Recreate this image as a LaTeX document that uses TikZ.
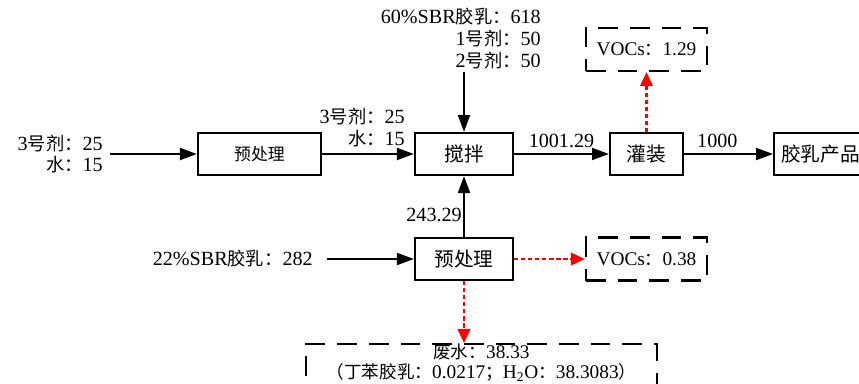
\documentclass[tikz,border=0pt]{standalone}
\usepackage{fontspec}
\setmainfont{Liberation Serif}[Scale=1.1]
\newfontfamily\cjk{Noto Sans CJK SC}
\usetikzlibrary{arrows.meta}

\tikzset{
  box/.style={draw,line width=1.6pt,minimum height=1.05cm,inner sep=0pt,
              font=\fontsize{14}{16}\selectfont\cjk},
  dashbox/.style={draw,line width=1.6pt,dash pattern=on 14pt off 8.5pt,
                  minimum width=3.025cm,minimum height=1.075cm,inner sep=0pt,
                  font=\fontsize{12.5}{15}\selectfont},
  lbl/.style={inner sep=0pt,font=\fontsize{13}{15.5}\selectfont},
  flow/.style={line width=1.4pt,-{Triangle[length=12pt,width=8.5pt]}},
  loss/.style={red,line width=1.6pt,dash pattern=on 3pt off 2pt,
               -{Triangle[length=10pt,width=9pt]}}
}

\begin{document}
\begin{tikzpicture}[x=0.025cm,y=-0.025cm]
  \useasboundingbox (0,0) rectangle (859,383);
  \clip (0,0) rectangle (859,383);

  % process boxes
  \node[box,minimum width=3.075cm,font=\fontsize{12}{14}\selectfont\cjk]
    (pre1) at (259.5,154) {预处理};
  \node[box,minimum width=2.45cm] (mix) at (464,154) {搅拌};
  \node[box,minimum width=1.825cm] (fill) at (646.5,154) {灌装};
  \node[box,anchor=west,inner xsep=5pt] (prod) at (773,154) {胶乳产品};
  \node[box,minimum width=2.45cm] (pre2) at (464,259) {预处理};

  % losses
  \node[dashbox] (voc1) at (646.5,49.5) {VOCs{\cjk ：}1.29};
  \node[dashbox] (voc2) at (646.5,259) {VOCs{\cjk ：}0.38};
  \node[dashbox,anchor=north,minimum width=8.775cm,align=center,
        text depth=30pt,font=\fontsize{12.5}{14}\selectfont]
    (waste) at (481.5,343)
    {{\cjk 废水：}38.33\\{\cjk （丁苯胶乳：}0.0217{\cjk ；}H\textsubscript{2}O{\cjk ：}38.3083{\cjk ）}};

  % feeds
  \node[lbl,anchor=east,align=right] (feed1) at (103,154)
    {3{\cjk 号剂：}25\\{\cjk 水：}15};
  \node[lbl,anchor=south east,align=right] (feed2) at (541,69)
    {60\%SBR{\cjk 胶乳：}618\\1{\cjk 号剂：}50\\2{\cjk 号剂：}50};
  \node[lbl,anchor=east] (feed3) at (313,259) {22\%SBR{\cjk 胶乳：}282};
  \node[lbl,anchor=south east,align=right] (feed4) at (405,147)
    {3{\cjk 号剂：}25\\{\cjk 水：}15};
  \node[lbl,anchor=east] (back) at (462,215) {243.29};

  % flows
  \draw[flow,shorten <=5pt] (feed1) -- (pre1);
  \draw[flow] (pre1) -- (mix);
  \draw[flow,shorten <=2pt] (mix.north |- feed2.south) -- (mix.north);
  \draw[flow,shorten <=10pt] (feed3) -- (pre2);
  \draw[flow] (pre2) -- (mix);
  \draw[flow] (mix) -- node[lbl,above=4pt] (m2f) {1001.29} (fill);
  \draw[flow] (fill) -- node[lbl,above=4pt,xshift=-8pt] (f2p) {1000} (prod);
  \draw[loss] (fill) -- (voc1);
  \draw[loss] (pre2) -- (voc2);
  \draw[loss] (pre2.south) -- (pre2.south |- waste.north);
\end{tikzpicture}
\end{document}
